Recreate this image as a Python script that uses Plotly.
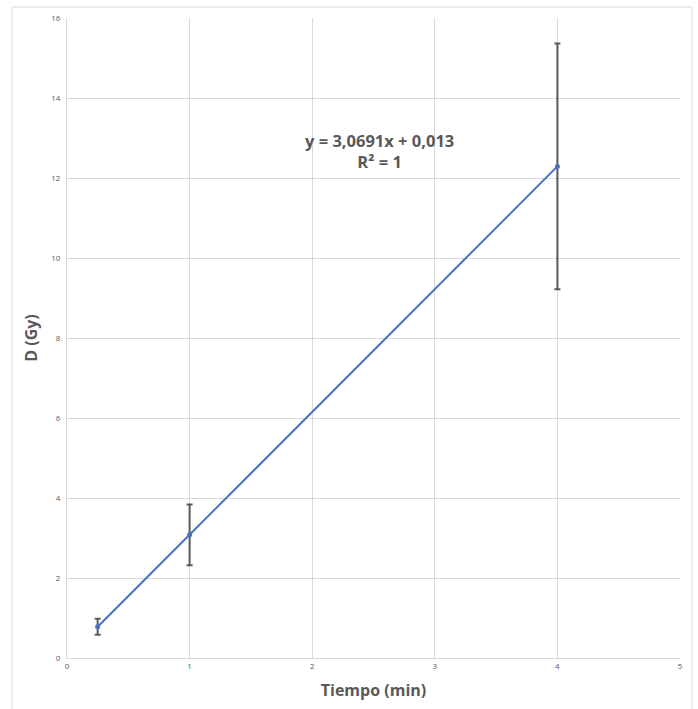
import plotly.graph_objects as go

tiempo = [0.25, 1, 4]
dosis = [0.78, 3.08, 12.29]
error = [0.20, 0.76, 3.07]
x_ticks = [0, 1, 2, 3, 4, 5]
y_ticks = [0, 2, 4, 6, 8, 10, 12, 14, 16]
ecuacion = "y = 3,0691x + 0,013<br>R² = 1"

grey = "#595959"
grid = "#d9d9d9"

fig = go.Figure()
fig.add_trace(go.Scatter(
    x=tiempo, y=dosis, mode="lines+markers",
    line=dict(color="#4472c4", width=2),
    marker=dict(color="#4472c4", size=5),
    error_y=dict(type="data", array=error, visible=True, color="#595959",
                 thickness=2, width=3),
    showlegend=False,
))

fig.update_layout(
    width=698, height=709,
    margin=dict(l=67, r=18, t=16, b=51),
    paper_bgcolor="white", plot_bgcolor="white",
    font=dict(family="Open Sans, Liberation Sans, sans-serif", color=grey),
    xaxis=dict(range=[0, 5], tickvals=x_ticks, ticktext=[str(v) for v in x_ticks],
               showgrid=True, gridcolor=grid, gridwidth=1,
               showline=True, linecolor=grid, linewidth=1, mirror=False,
               zeroline=False, ticks="", tickfont=dict(size=8, color=grey),
               title=dict(text="<b>Tiempo (min)</b>", font=dict(size=16, color=grey), standoff=15)),
    yaxis=dict(range=[0, 16], tickvals=y_ticks, ticktext=[str(v) for v in y_ticks],
               showgrid=True, gridcolor=grid, gridwidth=1,
               showline=True, linecolor=grid, linewidth=1,
               zeroline=False, ticks="", tickfont=dict(size=8, color=grey),
               ticklabelstandoff=4,
               title=dict(text="<b>D (Gy)</b>", font=dict(size=16, color=grey), standoff=9)),
)

fig.add_annotation(
    x=2.55, y=12.68, xref="x", yref="y", text="<b>" + ecuacion + "</b>",
    showarrow=False, font=dict(size=16.5, color=grey), align="center",
)

fig.add_shape(type="rect", xref="paper", yref="paper",
              x0=-0.0897, x1=1.0196, y0=-0.1, y1=1.0171,
              line=dict(color="#d9d9d9", width=1), layer="below")

fig.write_html("out.html", config={"displayModeBar": False},
               post_script="document.body.style.margin='0';")
